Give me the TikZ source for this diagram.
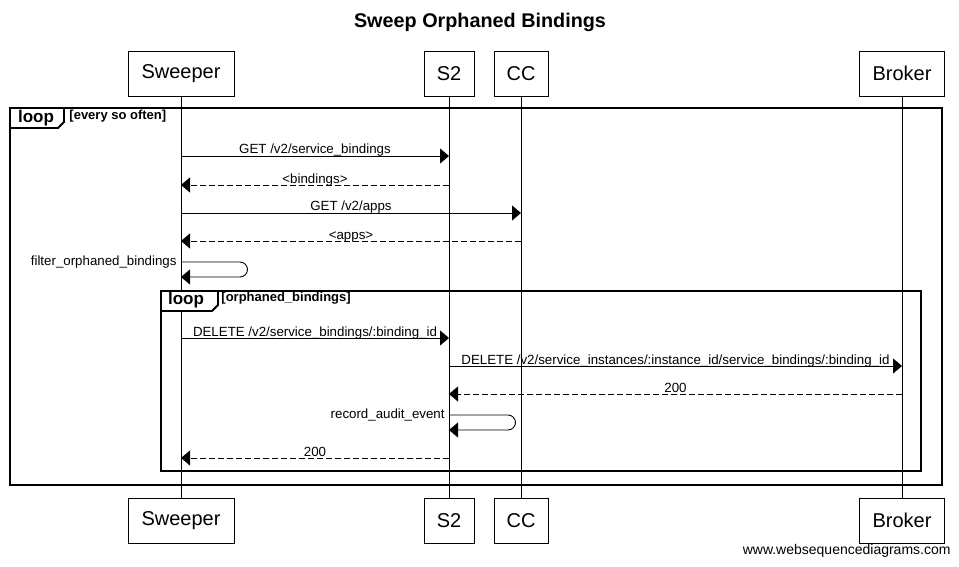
\documentclass[tikz,border=0pt]{standalone}
\usepackage{fontspec}
\setmainfont{Liberation Sans}
\usetikzlibrary{arrows.meta,calc}

\begin{document}
\begin{tikzpicture}[x=1pt,y=-1pt,line width=0.9pt,
	party/.style={draw,fill=white,minimum height=45pt,inner xsep=0pt,font=\fontsize{20}{24}\selectfont},
	msg/.style={-{Triangle[length=9pt,width=15pt]}},
	reply/.style={msg,dash pattern=on 6pt off 3pt},
	lbl/.style={anchor=base,yshift=2pt,inner sep=0pt,font=\fontsize{13.3}{15}\selectfont},
	frame/.style={line width=1.8pt},
	tab/.style={frame,fill=white},
	cond/.style={anchor=west,inner sep=0pt,font=\bfseries\fontsize{13}{15}\selectfont}]
	\useasboundingbox (0,0) rectangle (959,567);
	\node [font=\bfseries\fontsize{19.8}{23}\selectfont] (title) at (480,22) {Sweep Orphaned Bindings};
	% participants, top and bottom
	\node [party,minimum width=106pt] (swTop) at (181,73.5) {Sweeper};
	\node [party,minimum width=50pt] (s2Top) at (449,73.5) {S2};
	\node [party,minimum width=54pt] (ccTop) at (521,73.5) {CC};
	\node [party,minimum width=85pt] (brTop) at (902,73.5) {Broker};
	\node [party,minimum width=106pt] (swBot) at (181,520.5) {Sweeper};
	\node [party,minimum width=50pt] (s2Bot) at (449,520.5) {S2};
	\node [party,minimum width=54pt] (ccBot) at (521,520.5) {CC};
	\node [party,minimum width=85pt] (brBot) at (902,520.5) {Broker};
	\draw (swTop) -- (swBot);
	\draw (s2Top) -- (s2Bot);
	\draw (ccTop) -- (ccBot);
	\draw (brTop) -- (brBot);
	% loops
	\draw [frame] (10,108) rectangle (942,485);
	\draw [tab] (10,108) -- (64,108) -- (64,122) -- (58,128) -- (10,128) -- cycle;
	\node [font=\bfseries\fontsize{17}{19}\selectfont] (outerLoop) at (36,118) {loop};
	\node [cond] (outerCond) at (69,116) {[every so often]};
	\draw [frame] (161,291) rectangle (921,471);
	\draw [tab] (161,291) -- (218,291) -- (218,305) -- (212,311) -- (161,311) -- cycle;
	\node [font=\bfseries\fontsize{17}{19}\selectfont] (innerLoop) at (186,300) {loop};
	\node [cond] (innerCond) at (221,298) {[orphaned\_bindings]};
	% messages
	\draw [msg] (swTop |- 0,156) -- (s2Top |- 0,156) node [lbl,midway] {GET /v2/service\_bindings};
	\draw [reply] (s2Top |- 0,185) -- (swTop |- 0,185) node [lbl,midway] {<bindings>};
	\draw [msg] (swTop |- 0,213) -- (ccTop |- 0,213) node [lbl,midway] {GET /v2/apps};
	\draw [reply] (ccTop |- 0,241) -- (swTop |- 0,241) node [lbl,midway] {<apps>};
	\draw [msg] (swTop |- 0,262) -- (240,262) arc [start angle=-90,end angle=90,radius=7.5] -- (swTop |- 0,277);
	\node [lbl,anchor=base east,yshift=0pt] (filter) at (177,267) {filter\_orphaned\_bindings};
	\draw [msg] (swTop |- 0,338) -- (s2Top |- 0,338) node [lbl,midway] {DELETE /v2/service\_bindings/:binding\_id};
	\draw [msg] (s2Top |- 0,366) -- (brTop |- 0,366) node [lbl,midway] {DELETE /v2/service\_instances/:instance\_id/service\_bindings/:binding\_id};
	\draw [reply] (brTop |- 0,394) -- (s2Top |- 0,394) node [lbl,midway] {200};
	\draw [msg] (s2Top |- 0,415) -- (508,415) arc [start angle=-90,end angle=90,radius=7.5] -- (s2Top |- 0,430);
	\node [lbl,anchor=base east,yshift=0pt] (audit) at (445,420) {record\_audit\_event};
	\draw [reply] (s2Top |- 0,458) -- (swTop |- 0,458) node [lbl,midway] {200};
	\node [anchor=east,inner sep=0pt,font=\fontsize{14}{16}\selectfont] (footer) at (951,551) {www.websequencediagrams.com};
\end{tikzpicture}
\end{document}
